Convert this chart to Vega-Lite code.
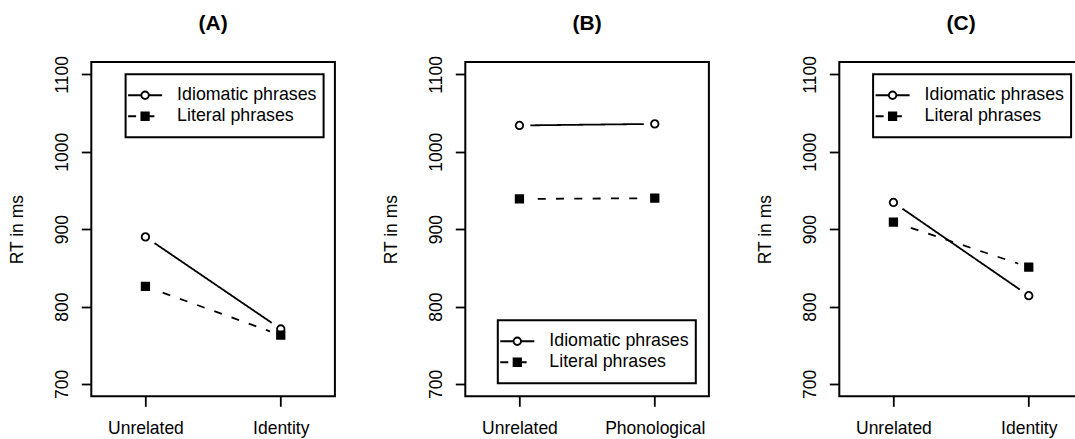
{
  "$schema": "https://vega.github.io/schema/vega-lite/v6.json",
  "background": "white",
  "padding": {"left": 7.3, "top": 12, "right": -7, "bottom": 0},
  "config": {
    "font": "Liberation Sans",
    "view": {"stroke": "black", "strokeWidth": 2},
    "axis": {
      "domain": false,
      "grid": false,
      "ticks": true,
      "tickColor": "black",
      "tickWidth": 1.8,
      "tickSize": 10,
      "labelFont": "Liberation Sans",
      "labelFontSize": 17.5,
      "labelColor": "black",
      "titleFont": "Liberation Sans",
      "titleFontSize": 17.5,
      "titleFontWeight": "normal",
      "titleColor": "black"
    },
    "title": {
      "font": "Liberation Sans",
      "fontSize": 21,
      "fontWeight": "bold",
      "color": "black",
      "anchor": "middle",
      "frame": "group",
      "baseline": "alphabetic",
      "offset": 21.5
    },
    "legend": {"strokeWidth": 2}
  },
  "datasets": {
    "A": [
      {"prime": "Unrelated", "phrase": "Idiomatic phrases", "rt": 890},
      {"prime": "Identity", "phrase": "Idiomatic phrases", "rt": 771},
      {"prime": "Unrelated", "phrase": "Literal phrases", "rt": 826},
      {"prime": "Identity", "phrase": "Literal phrases", "rt": 763}
    ],
    "B": [
      {"prime": "Unrelated", "phrase": "Idiomatic phrases", "rt": 1034},
      {"prime": "Phonological", "phrase": "Idiomatic phrases", "rt": 1036},
      {"prime": "Unrelated", "phrase": "Literal phrases", "rt": 939},
      {"prime": "Phonological", "phrase": "Literal phrases", "rt": 940}
    ],
    "C": [
      {"prime": "Unrelated", "phrase": "Idiomatic phrases", "rt": 934.5},
      {"prime": "Identity", "phrase": "Idiomatic phrases", "rt": 814},
      {"prime": "Unrelated", "phrase": "Literal phrases", "rt": 909},
      {"prime": "Identity", "phrase": "Literal phrases", "rt": 851}
    ]
  },
  "spacing": 130,
  "bounds": "flush",
  "resolve": {"scale": {"shape": "independent", "fill": "independent", "stroke": "independent", "strokeDash": "independent"}},
  "hconcat": [
    {
      "width": 243.6,
      "height": 334.3,
      "title": {"text": "(A)"},
      "data": {"name": "A"},
      "encoding": {
        "x": {"field": "prime", "type": "nominal", "sort": ["Unrelated", "Identity"], "scale": {"type": "point", "padding": 0.4}, "axis": {"title": null, "labelAngle": 0, "labelPadding": 13.5}},
        "y": {"field": "rt", "type": "quantitative", "scale": {"domain": [684, 1116], "nice": false, "zero": false}, "axis": {"values": [700, 800, 900, 1000, 1100], "format": "d", "title": "RT in ms", "labelAngle": 270, "labelAlign": "center", "labelBaseline": "alphabetic", "labelPadding": 14, "titlePadding": 26.7}}
      },
      "layer": [
        {"mark": {"type": "line", "color": "black", "strokeWidth": 1.8}, "encoding": {"strokeDash": {"field": "phrase", "type": "nominal", "scale": {"range": [[1, 0], [8, 10.3]]}, "legend": {"title": null, "orient": "none", "legendX": 35.8, "legendY": 22.9, "symbolType": "stroke", "symbolSize": 1156, "symbolStrokeWidth": 1.8, "symbolStrokeColor": "black", "clipHeight": 20.7, "rowPadding": 0, "padding": 0, "symbolOffset": 0, "labelOffset": 14, "labelFontSize": 17.8, "labelColor": "black", "labelFont": "Liberation Sans", "zindex": 1}}}},
        {"mark": {"type": "point", "filled": true, "color": "white", "opacity": 1, "size": 484, "strokeWidth": 0}},
        {"mark": {"type": "point", "filled": true, "strokeWidth": 1.8, "opacity": 1, "size": 56}, "encoding": {
          "shape": {"field": "phrase", "type": "nominal", "scale": {"domain": ["Idiomatic phrases", "Literal phrases"], "range": ["circle", "square"]}, "legend": {"title": null, "orient": "none", "legendX": 34.3, "legendY": 12.3, "symbolSize": 56, "symbolStrokeWidth": 1.8, "clipHeight": 20.7, "rowPadding": 0, "padding": 10.6, "symbolOffset": 0, "labelOffset": 159, "labelFontSize": 17.8, "labelExpr": "'\u00a0'", "strokeColor": "black", "zindex": 2}},
          "fill": {"field": "phrase", "type": "nominal", "scale": {"domain": ["Idiomatic phrases", "Literal phrases"], "range": ["white", "black"]}, "legend": {"title": null, "orient": "none", "legendX": 34.3, "legendY": 12.3, "symbolSize": 56, "symbolStrokeWidth": 1.8, "clipHeight": 20.7, "rowPadding": 0, "padding": 10.6, "symbolOffset": 0, "labelOffset": 159, "labelFontSize": 17.8, "labelExpr": "'\u00a0'", "strokeColor": "black", "zindex": 2}},
          "stroke": {"field": "phrase", "type": "nominal", "scale": {"domain": ["Idiomatic phrases", "Literal phrases"], "range": ["black", "black"]}, "legend": {"title": null, "orient": "none", "legendX": 34.3, "legendY": 12.3, "symbolSize": 56, "symbolStrokeWidth": 1.8, "clipHeight": 20.7, "rowPadding": 0, "padding": 10.6, "symbolOffset": 0, "labelOffset": 159, "labelFontSize": 17.8, "labelExpr": "'\u00a0'", "strokeColor": "black", "zindex": 2}}
        }}
      ]
    },
    {
      "width": 243.6,
      "height": 334.3,
      "title": {"text": "(B)"},
      "data": {"name": "B"},
      "encoding": {
        "x": {"field": "prime", "type": "nominal", "sort": ["Unrelated", "Phonological"], "scale": {"type": "point", "padding": 0.4}, "axis": {"title": null, "labelAngle": 0, "labelPadding": 13.5}},
        "y": {"field": "rt", "type": "quantitative", "scale": {"domain": [684, 1116], "nice": false, "zero": false}, "axis": {"values": [700, 800, 900, 1000, 1100], "format": "d", "title": "RT in ms", "labelAngle": 270, "labelAlign": "center", "labelBaseline": "alphabetic", "labelPadding": 14, "titlePadding": 26.7}}
      },
      "layer": [
        {"mark": {"type": "line", "color": "black", "strokeWidth": 1.8}, "encoding": {"strokeDash": {"field": "phrase", "type": "nominal", "scale": {"range": [[1, 0], [8, 10.3]]}, "legend": {"title": null, "orient": "none", "legendX": 34, "legendY": 268.9, "symbolType": "stroke", "symbolSize": 1156, "symbolStrokeWidth": 1.8, "symbolStrokeColor": "black", "clipHeight": 20.7, "rowPadding": 0, "padding": 0, "symbolOffset": 0, "labelOffset": 14, "labelFontSize": 17.8, "labelColor": "black", "labelFont": "Liberation Sans", "zindex": 1}}}},
        {"mark": {"type": "point", "filled": true, "color": "white", "opacity": 1, "size": 484, "strokeWidth": 0}},
        {"mark": {"type": "point", "filled": true, "strokeWidth": 1.8, "opacity": 1, "size": 56}, "encoding": {
          "shape": {"field": "phrase", "type": "nominal", "scale": {"domain": ["Idiomatic phrases", "Literal phrases"], "range": ["circle", "square"]}, "legend": {"title": null, "orient": "none", "legendX": 32.5, "legendY": 258.3, "symbolSize": 56, "symbolStrokeWidth": 1.8, "clipHeight": 20.7, "rowPadding": 0, "padding": 10.6, "symbolOffset": 0, "labelOffset": 159, "labelFontSize": 17.8, "labelExpr": "'\u00a0'", "strokeColor": "black", "zindex": 2}},
          "fill": {"field": "phrase", "type": "nominal", "scale": {"domain": ["Idiomatic phrases", "Literal phrases"], "range": ["white", "black"]}, "legend": {"title": null, "orient": "none", "legendX": 32.5, "legendY": 258.3, "symbolSize": 56, "symbolStrokeWidth": 1.8, "clipHeight": 20.7, "rowPadding": 0, "padding": 10.6, "symbolOffset": 0, "labelOffset": 159, "labelFontSize": 17.8, "labelExpr": "'\u00a0'", "strokeColor": "black", "zindex": 2}},
          "stroke": {"field": "phrase", "type": "nominal", "scale": {"domain": ["Idiomatic phrases", "Literal phrases"], "range": ["black", "black"]}, "legend": {"title": null, "orient": "none", "legendX": 32.5, "legendY": 258.3, "symbolSize": 56, "symbolStrokeWidth": 1.8, "clipHeight": 20.7, "rowPadding": 0, "padding": 10.6, "symbolOffset": 0, "labelOffset": 159, "labelFontSize": 17.8, "labelExpr": "'\u00a0'", "strokeColor": "black", "zindex": 2}}
        }}
      ]
    },
    {
      "width": 243.6,
      "height": 334.3,
      "title": {"text": "(C)"},
      "data": {"name": "C"},
      "encoding": {
        "x": {"field": "prime", "type": "nominal", "sort": ["Unrelated", "Identity"], "scale": {"type": "point", "padding": 0.4}, "axis": {"title": null, "labelAngle": 0, "labelPadding": 13.5}},
        "y": {"field": "rt", "type": "quantitative", "scale": {"domain": [684, 1116], "nice": false, "zero": false}, "axis": {"values": [700, 800, 900, 1000, 1100], "format": "d", "title": "RT in ms", "labelAngle": 270, "labelAlign": "center", "labelBaseline": "alphabetic", "labelPadding": 14, "titlePadding": 26.7}}
      },
      "layer": [
        {"mark": {"type": "line", "color": "black", "strokeWidth": 1.8}, "encoding": {"strokeDash": {"field": "phrase", "type": "nominal", "scale": {"range": [[1, 0], [8, 10.3]]}, "legend": {"title": null, "orient": "none", "legendX": 35.3, "legendY": 22.9, "symbolType": "stroke", "symbolSize": 1156, "symbolStrokeWidth": 1.8, "symbolStrokeColor": "black", "clipHeight": 20.7, "rowPadding": 0, "padding": 0, "symbolOffset": 0, "labelOffset": 14, "labelFontSize": 17.8, "labelColor": "black", "labelFont": "Liberation Sans", "zindex": 1}}}},
        {"mark": {"type": "point", "filled": true, "color": "white", "opacity": 1, "size": 484, "strokeWidth": 0}},
        {"mark": {"type": "point", "filled": true, "strokeWidth": 1.8, "opacity": 1, "size": 56}, "encoding": {
          "shape": {"field": "phrase", "type": "nominal", "scale": {"domain": ["Idiomatic phrases", "Literal phrases"], "range": ["circle", "square"]}, "legend": {"title": null, "orient": "none", "legendX": 33.8, "legendY": 12.3, "symbolSize": 56, "symbolStrokeWidth": 1.8, "clipHeight": 20.7, "rowPadding": 0, "padding": 10.6, "symbolOffset": 0, "labelOffset": 159, "labelFontSize": 17.8, "labelExpr": "'\u00a0'", "strokeColor": "black", "zindex": 2}},
          "fill": {"field": "phrase", "type": "nominal", "scale": {"domain": ["Idiomatic phrases", "Literal phrases"], "range": ["white", "black"]}, "legend": {"title": null, "orient": "none", "legendX": 33.8, "legendY": 12.3, "symbolSize": 56, "symbolStrokeWidth": 1.8, "clipHeight": 20.7, "rowPadding": 0, "padding": 10.6, "symbolOffset": 0, "labelOffset": 159, "labelFontSize": 17.8, "labelExpr": "'\u00a0'", "strokeColor": "black", "zindex": 2}},
          "stroke": {"field": "phrase", "type": "nominal", "scale": {"domain": ["Idiomatic phrases", "Literal phrases"], "range": ["black", "black"]}, "legend": {"title": null, "orient": "none", "legendX": 33.8, "legendY": 12.3, "symbolSize": 56, "symbolStrokeWidth": 1.8, "clipHeight": 20.7, "rowPadding": 0, "padding": 10.6, "symbolOffset": 0, "labelOffset": 159, "labelFontSize": 17.8, "labelExpr": "'\u00a0'", "strokeColor": "black", "zindex": 2}}
        }}
      ]
    }
  ]
}
